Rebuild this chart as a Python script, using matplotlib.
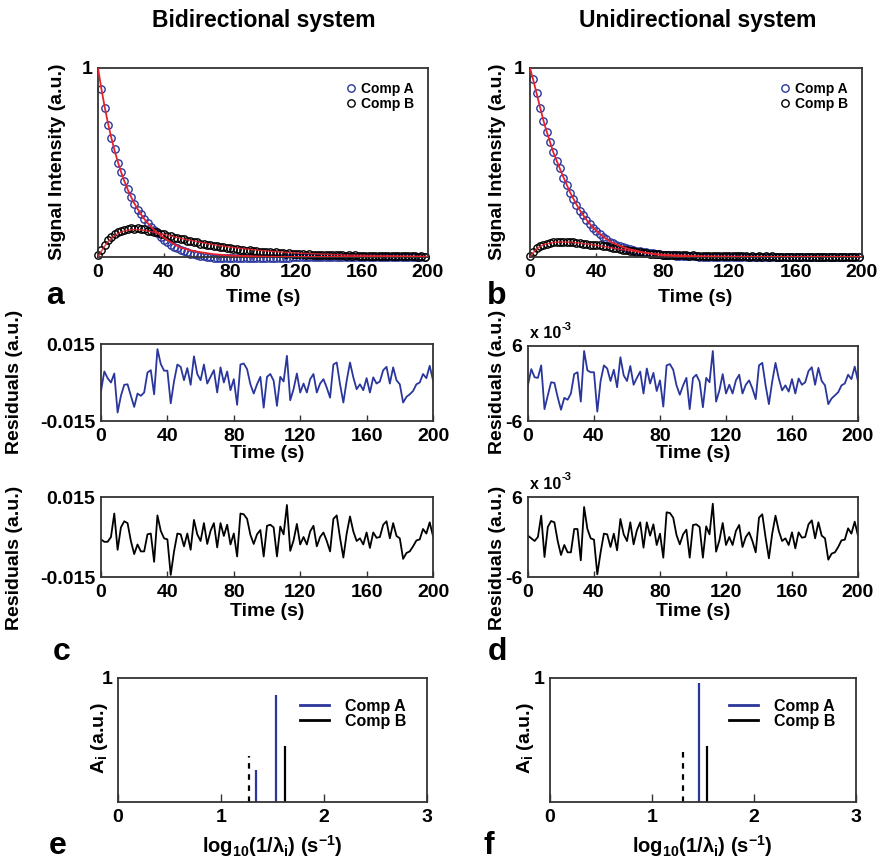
import numpy as np
import matplotlib.pyplot as plt
from matplotlib.lines import Line2D
from matplotlib import font_manager

plt.rcParams['font.family'] = ['Liberation Sans', 'DejaVu Sans']
plt.rcParams['font.weight'] = 'bold'
plt.rcParams['mathtext.fontset'] = 'custom'
plt.rcParams['mathtext.rm'] = 'Liberation Sans:bold'
plt.rcParams['mathtext.it'] = 'Liberation Sans:bold'
plt.rcParams['mathtext.bf'] = 'Liberation Sans:bold'

_names = {f.name for f in font_manager.fontManager.ttflist}
NARROW = 'Liberation Sans Narrow' if 'Liberation Sans Narrow' in _names else 'Liberation Sans'

BLUE = '#2a369c'
RED = '#e8212b'
FRAME = '#333333'

# ---- signal data (markers every 2 s) ----
time_s = np.arange(0, 200, 2)

bi_comp_a = [np.nan, 0.89, 0.79, 0.70, 0.63, 0.57, 0.50, 0.45, 0.40, 0.36,
             0.32, 0.28, 0.25, 0.225, 0.20, 0.18, 0.16, 0.145, 0.125, 0.105,
             0.09, 0.078, 0.066, 0.055, 0.045, 0.037, 0.03, 0.024, 0.018, 0.014,
             0.01, 0.006, 0.003, 0.001, -0.001, -0.003, -0.004, -0.005, -0.006, -0.006,
             -0.007, -0.007, -0.007, -0.006, -0.007, -0.006, -0.006, -0.005, -0.006, -0.005,
             -0.005, -0.004, -0.005, -0.004, -0.004, -0.003, -0.004, -0.003, -0.003, -0.002,
             -0.002, -0.002, -0.001, -0.002, -0.001, -0.001, 0.0, -0.001, 0.0, 0.0,
             0.0, 0.001, 0.0, 0.0, -0.001, 0.0, 0.0, 0.001, 0.0, 0.0,
             0.0, 0.0, 0.001, 0.0, 0.0, -0.001, 0.0, 0.0, 0.0, 0.001,
             0.0, 0.0, 0.0, 0.001, 0.0, 0.0, 0.0, 0.0, 0.0, 0.0]
bi_comp_b = [0.008, 0.035, 0.062, 0.088, 0.104, 0.121, 0.13, 0.14, 0.143, 0.149,
             0.152, 0.148, 0.155, 0.146, 0.149, 0.139, 0.14, 0.13, 0.131, 0.121,
             0.12, 0.11, 0.112, 0.101, 0.103, 0.094, 0.093, 0.085, 0.086, 0.077,
             0.077, 0.07, 0.07, 0.063, 0.064, 0.057, 0.058, 0.051, 0.052, 0.047,
             0.047, 0.042, 0.043, 0.038, 0.039, 0.034, 0.035, 0.031, 0.032, 0.028,
             0.029, 0.025, 0.026, 0.022, 0.024, 0.02, 0.022, 0.018, 0.02, 0.016,
             0.017, 0.014, 0.016, 0.013, 0.014, 0.011, 0.013, 0.01, 0.012, 0.009,
             0.011, 0.008, 0.01, 0.008, 0.009, 0.007, 0.008, 0.006, 0.008, 0.006,
             0.007, 0.005, 0.007, 0.005, 0.006, 0.004, 0.006, 0.004, 0.005, 0.004,
             0.005, 0.003, 0.005, 0.003, 0.004, 0.003, 0.004, 0.002, 0.003, 0.002]
uni_comp_a = [np.nan, 0.94, 0.87, 0.79, 0.72, 0.66, 0.61, 0.555, 0.51, 0.47,
              0.42, 0.38, 0.34, 0.305, 0.275, 0.245, 0.22, 0.195, 0.172, 0.152,
              0.135, 0.12, 0.106, 0.093, 0.082, 0.072, 0.064, 0.057, 0.051, 0.046,
              0.041, 0.037, 0.033, 0.03, 0.027, 0.024, 0.022, 0.019, 0.017, 0.015,
              0.013, 0.011, 0.01, 0.009, 0.007, 0.006, 0.005, 0.004, 0.004, 0.003,
              0.003, 0.002, 0.002, 0.002, 0.001, 0.001, 0.001, 0.001, 0.001, 0.0,
              0.0, 0.0, 0.001, 0.0, 0.0, 0.0, 0.0, 0.001, 0.0, 0.0,
              0.0, 0.0, 0.0, 0.0, 0.001, 0.0, 0.0, 0.0, 0.0, 0.0,
              0.0, 0.001, 0.0, 0.0, 0.0, 0.0, 0.0, 0.0, 0.001, 0.0,
              0.0, 0.0, 0.0, 0.0, 0.0, 0.001, 0.0, 0.0, 0.0, 0.0]
uni_comp_b = [0.006, 0.027, 0.045, 0.057, 0.063, 0.071, 0.073, 0.078, 0.077, 0.08,
              0.078, 0.08, 0.077, 0.078, 0.074, 0.075, 0.071, 0.071, 0.066, 0.066,
              0.062, 0.062, 0.057, 0.057, 0.052, 0.05, 0.045, 0.043, 0.038, 0.037,
              0.032, 0.031, 0.027, 0.027, 0.022, 0.022, 0.018, 0.018, 0.015, 0.015,
              0.012, 0.013, 0.01, 0.011, 0.009, 0.01, 0.008, 0.009, 0.007, 0.008,
              0.006, 0.007, 0.005, 0.006, 0.005, 0.006, 0.004, 0.005, 0.004, 0.005,
              0.003, 0.004, 0.003, 0.004, 0.003, 0.004, 0.002, 0.003, 0.002, 0.003,
              0.002, 0.003, 0.002, 0.003, 0.002, 0.002, 0.001, 0.002, 0.001, 0.002,
              0.001, 0.002, 0.001, 0.002, 0.001, 0.001, 0.001, 0.002, 0.001, 0.001,
              0.001, 0.001, 0.0, 0.001, 0.001, 0.0, 0.001, 0.001, 0.0, 0.001]

# ---- fitted curves ----
fit_t = [0, 2, 4, 6, 8, 10, 12, 14, 16, 18, 20, 22, 24, 26, 28, 30,
         34, 38, 42, 46, 50, 55, 60, 70, 80, 100, 120, 150, 200]
bi_fit_a = [1.0, 0.892, 0.796, 0.71, 0.633, 0.565, 0.504, 0.449, 0.401, 0.357, 0.319, 0.284, 0.254, 0.226, 0.202, 0.18,
            0.143, 0.114, 0.09, 0.068, 0.05, 0.038, 0.028, 0.015, 0.008, 0.002, 0.0, 0.0, 0.0]
bi_fit_b = [0.0, 0.03, 0.057, 0.08, 0.098, 0.112, 0.123, 0.132, 0.138, 0.142, 0.144, 0.145, 0.145, 0.143, 0.141, 0.138,
            0.131, 0.123, 0.115, 0.107, 0.099, 0.09, 0.081, 0.065, 0.052, 0.033, 0.021, 0.01, 0.003]
uni_fit_a = [1.0, 0.935, 0.865, 0.795, 0.725, 0.665, 0.61, 0.555, 0.51, 0.468, 0.425, 0.385, 0.345, 0.31, 0.278, 0.248,
             0.197, 0.155, 0.122, 0.095, 0.074, 0.055, 0.041, 0.021, 0.009, 0.001, 0.0, 0.0, 0.0]
uni_fit_b = [0.0, 0.024, 0.042, 0.055, 0.064, 0.07, 0.074, 0.077, 0.078, 0.079, 0.079, 0.079, 0.078, 0.077, 0.075, 0.073,
             0.069, 0.064, 0.059, 0.053, 0.047, 0.04, 0.033, 0.021, 0.013, 0.006, 0.003, 0.001, 0.0]

# ---- residuals (x 1e-3 a.u.) ----
time_r = np.arange(0, 201, 2)
res_bi_a = [-3.3, 4.3, 1.7, 0.0, 3.5, -11.7, -5.2, -0.9, -0.7, -5.2,
            -9.5, -4.3, -5.2, -3.9, 3.9, 4.8, -4.6, 13.0, 7.2, 4.6,
            4.6, -8.1, 0.5, 7.0, 6.1, 0.9, 5.6, -0.9, 10.2, 3.3,
            0.9, 7.0, -0.4, 2.2, 4.8, -3.9, 5.9, 0.0, 4.3, -3.0,
            1.3, -8.7, 7.0, 7.4, 5.2, -0.7, -4.3, -0.7, 2.2, -9.8,
            2.2, 3.3, 0.7, -9.1, 2.2, 0.4, 10.4, -6.9, -2.6, 3.5,
            -3.9, -0.4, -3.9, 1.3, 3.3, -3.9, -0.4, 1.3, -2.0, -5.9,
            7.0, 7.8, -0.7, -7.8, 0.7, 7.8, 2.0, -2.6, -0.7, -3.0,
            1.7, -3.9, 2.0, -0.4, 0.4, 4.8, 6.1, -0.4, 5.9, 0.9,
            -0.7, -7.8, -5.6, -4.6, -3.3, -0.7, 0.0, 3.3, 1.7, 6.5, 0.9]
res_bi_b = [-0.9, -1.8, -1.8, 0.0, 8.8, -4.8, 3.6, 5.9, 5.2, -1.5,
            -6.4, -2.8, -5.4, -5.4, 1.0, 1.3, -9.3, 8.1, 2.3, -0.5,
            -0.9, -14.2, -5.4, 1.3, 1.0, -3.5, 1.3, -4.8, 6.4, 1.0,
            -1.5, 5.2, -2.6, 2.3, 5.2, -3.9, 5.2, 0.4, 4.6, -2.8,
            1.3, -7.3, 8.8, 8.5, 6.8, 0.8, -2.6, 1.0, 2.6, -7.3,
            4.2, 4.6, 3.6, -7.3, 3.9, 1.0, 12.0, -5.2, -1.3, 4.9,
            -2.8, 0.0, -2.8, 2.1, 4.2, -3.5, 0.0, 1.7, -1.5, -5.4,
            6.8, 8.1, -0.3, -7.7, 1.3, 7.7, 2.1, -1.5, -0.5, -2.8,
            1.7, -4.1, 1.7, -0.3, 0.0, 4.6, 5.9, -0.5, 5.2, 0.4,
            -0.5, -8.2, -6.0, -5.4, -3.5, -1.3, -0.9, 3.0, 1.3, 5.5, 0.4]
res_uni_a = [-0.2, 2.3, 1.0, 0.9, 2.9, -4.1, -1.9, 0.2, 0.1, -2.2,
             -4.2, -2.3, -2.6, -1.6, 1.5, 1.8, -2.9, 5.2, 2.1, 1.8,
             1.8, -4.5, 0.4, 2.9, 2.4, 0.4, 2.2, -0.6, 4.2, 1.3,
             0.4, 2.8, -0.2, 0.9, 1.9, -1.6, 2.4, 0.0, 1.7, -1.2,
             0.5, -3.7, 2.9, 3.1, 2.2, -0.3, -1.8, -0.3, 0.9, -4.1,
             0.9, 1.4, 0.3, -3.8, 0.9, 0.2, 5.2, -2.9, -1.1, 1.5,
             -1.6, -0.2, -1.6, 0.5, 1.4, -1.6, -0.2, 0.5, -0.8, -2.5,
             2.9, 3.3, -0.3, -3.3, 0.3, 3.3, 0.8, -1.1, -0.3, -1.3,
             0.7, -1.6, 0.8, -0.2, 0.2, 2.0, 2.6, -0.2, 2.5, 0.4,
             -0.3, -3.3, -2.4, -1.9, -1.4, -0.3, 0.0, 1.4, 0.7, 2.7, 0.4]
res_uni_b = [0.2, -0.2, -0.6, 0.0, 3.2, -3.0, 1.5, 2.4, 2.2, -0.6,
             -2.7, -1.2, -2.3, -2.3, 1.2, 1.2, -3.5, 4.5, 1.2, -0.2,
             -0.4, -5.6, -2.3, 0.5, 0.4, -1.5, 0.5, -2.0, 2.7, 0.4,
             -0.6, 2.2, -1.1, 1.0, 2.2, -1.6, 2.2, 0.2, 1.9, -1.2,
             0.5, -3.1, 3.7, 3.6, 2.9, 0.3, -1.1, 0.4, 1.1, -3.1,
             1.8, 1.9, 1.5, -3.1, 1.6, 0.4, 5.0, -2.2, -0.5, 2.1,
             -1.2, 0.0, -1.2, 0.9, 1.8, -1.5, 0.0, 0.7, -0.6, -2.3,
             2.9, 3.4, -0.1, -3.2, 0.5, 3.2, 0.9, -0.6, -0.2, -1.2,
             0.7, -1.7, 0.7, -0.1, 0.0, 1.9, 2.5, -0.2, 2.2, 0.2,
             -0.2, -3.4, -2.5, -2.3, -1.5, -0.5, -0.4, 1.3, 0.5, 2.3, 0.2]

# ---- rate spectra ----
bi_rate_a, bi_amp_a = [1.338, 1.532], [0.259, 0.859]
bi_rate_b, bi_amp_b = [1.626], [0.453]
bi_cut, bi_cut_h = 1.27, 0.368
uni_rate_a, uni_amp_a = [1.456], [0.96]
uni_rate_b, uni_amp_b = [1.544], [0.45]
uni_cut, uni_cut_h = 1.306, 0.42

W, H = 884, 864
fig = plt.figure(figsize=(W / 100, H / 100), dpi=100)


def box(l, t, r, b):
    return fig.add_axes([l / W, 1 - b / H, (r - l) / W, (b - t) / H])


def put(x, y, s, **kw):
    fig.text(x / W, 1 - y / H, s, ha='center', va='center', **kw)


def frame(ax, xticks, yticks, ylabels=None, ticklen=4):
    for sp in ax.spines.values():
        sp.set_color(FRAME)
        sp.set_linewidth(1.3)
    ax.set_xticks(xticks)
    ax.set_yticks(yticks)
    if ylabels is not None:
        ax.set_yticklabels(ylabels)
    ax.tick_params(axis='x', direction='in', length=ticklen, width=1.0, color=FRAME,
                   labelsize=14, pad=5, top=False)
    ax.tick_params(axis='y', length=0, labelsize=14, pad=4)


def signal_panel(ax, a, b, fa, fb):
    ax.plot(time_s, a, 'o', mfc='none', mec=BLUE, ms=5.3, mew=1.0, clip_on=False, label='Comp A')
    ax.plot(time_s, b, 'o', mfc='none', mec='black', ms=5.3, mew=1.0, clip_on=False, label='Comp B')
    ax.plot(fit_t, fa, color=RED, lw=1.3, zorder=4)
    ax.plot(fit_t, fb, color=RED, lw=1.1, alpha=0.8, zorder=4)
    ax.set_xlim(0, 200)
    ax.set_ylim(0, 1)
    frame(ax, [0, 40, 80, 120, 160, 200], [1], ['1'], ticklen=3)
    ax.legend(loc='upper right', frameon=False, prop={'size': 10, 'weight': 'bold'},
              handlelength=0.8, handletextpad=0.3, labelspacing=0.1, borderaxespad=0.6)


def resid_panel(ax, vals, color, lim, ticklabels, scale):
    ax.plot(time_r, np.array(vals) * scale, color=color, lw=1.3)
    ax.set_xlim(0, 200)
    ax.set_ylim(-lim, lim)
    frame(ax, [0, 40, 80, 120, 160, 200], [-lim, lim], ticklabels)


def rate_panel(ax, ra, aa, rb, ab, cut, cut_h):
    ax.vlines(ra, 0, aa, color=BLUE, lw=1.6)
    ax.vlines(rb, 0, ab, color='black', lw=1.6)
    ax.plot([cut, cut], [0, cut_h], color='black', lw=1.6, ls=(0, (2.5, 2.5)))
    ax.set_xlim(0, 3)
    ax.set_ylim(0, 1)
    frame(ax, [0, 1, 2, 3], [1], ['1'], ticklen=6)
    handles = [Line2D([], [], color=BLUE, lw=2), Line2D([], [], color='black', lw=2)]
    ax.legend(handles, ['Comp A', 'Comp B'], loc='upper right', frameon=False,
              prop={'size': 11.5, 'weight': 'bold', 'family': NARROW},
              handlelength=1.8, handletextpad=1.0, labelspacing=0.0, borderaxespad=0.9)


# panels a, b
ax_a = box(98, 68, 428, 257)
signal_panel(ax_a, bi_comp_a, bi_comp_b, bi_fit_a, bi_fit_b)
ax_b = box(530, 68, 862, 257)
signal_panel(ax_b, uni_comp_a, uni_comp_b, uni_fit_a, uni_fit_b)

# residual panels
ax_c1 = box(101, 344, 433, 421)
resid_panel(ax_c1, res_bi_a, BLUE, 0.015, ['-0.015', '0.015'], 1e-3)
ax_c2 = box(101, 497, 433, 577)
resid_panel(ax_c2, res_bi_b, 'black', 0.015, ['-0.015', '0.015'], 1e-3)
ax_d1 = box(528, 346, 858, 421)
resid_panel(ax_d1, res_uni_a, BLUE, 6, ['-6', '6'], 1)
ax_d2 = box(528, 497, 858, 577)
resid_panel(ax_d2, res_uni_b, 'black', 6, ['-6', '6'], 1)

# rate panels
ax_e = box(118, 678, 427, 802)
rate_panel(ax_e, bi_rate_a, bi_amp_a, bi_rate_b, bi_amp_b, bi_cut, bi_cut_h)
ax_f = box(550, 678, 856, 802)
rate_panel(ax_f, uni_rate_a, uni_amp_a, uni_rate_b, uni_amp_b, uni_cut, uni_cut_h)

# titles
put(264, 20, 'Bidirectional system', fontsize=16.5, fontweight='bold', family=NARROW)
put(698, 20, 'Unidirectional system', fontsize=16.5, fontweight='bold', family=NARROW)

# axis labels
lab = dict(fontsize=14, fontweight='bold')
put(57, 162, 'Signal Intensity (a.u.)', rotation=90, **lab)
put(497, 162, 'Signal Intensity (a.u.)', rotation=90, **lab)
put(263, 297, 'Time (s)', **lab)
put(695, 297, 'Time (s)', **lab)
put(15, 382, 'Residuals (a.u.)', rotation=90, **lab)
put(15, 558, 'Residuals (a.u.)', rotation=90, **lab)
put(497, 382, 'Residuals (a.u.)', rotation=90, **lab)
put(497, 558, 'Residuals (a.u.)', rotation=90, **lab)
put(267, 453, 'Time (s)', **lab)
put(693, 453, 'Time (s)', **lab)
put(267, 612, 'Time (s)', **lab)
put(693, 612, 'Time (s)', **lab)
put(99, 738, 'A$_\\mathrm{i}$ (a.u.)', rotation=90, **lab)
put(526, 738, 'A$_\\mathrm{i}$ (a.u.)', rotation=90, **lab)
put(272, 846, 'log$_{10}$(1/λ$_\\mathrm{i}$) (s$^{-1}$)', family=NARROW, fontsize=14.5, fontweight='bold')
put(702, 846, 'log$_{10}$(1/λ$_\\mathrm{i}$) (s$^{-1}$)', family=NARROW, fontsize=14.5, fontweight='bold')

# exponent labels on right residuals
for yy in (334, 484):
    fig.text(530 / W, 1 - yy / H, 'x 10', ha='left', va='center', fontsize=11.5, fontweight='bold')
    fig.text(562 / W, 1 - (yy - 7) / H, '-3', ha='left', va='center', fontsize=8, fontweight='bold')

# panel letters
let = dict(fontsize=23, fontweight='bold')
put(55, 296, 'a', **let)
put(497, 296, 'b', **let)
put(62, 652, 'c', **let)
put(497, 652, 'd', **let)
put(58, 846, 'e', **let)
put(489, 846, 'f', **let)

fig.savefig('out.png', dpi=100)
